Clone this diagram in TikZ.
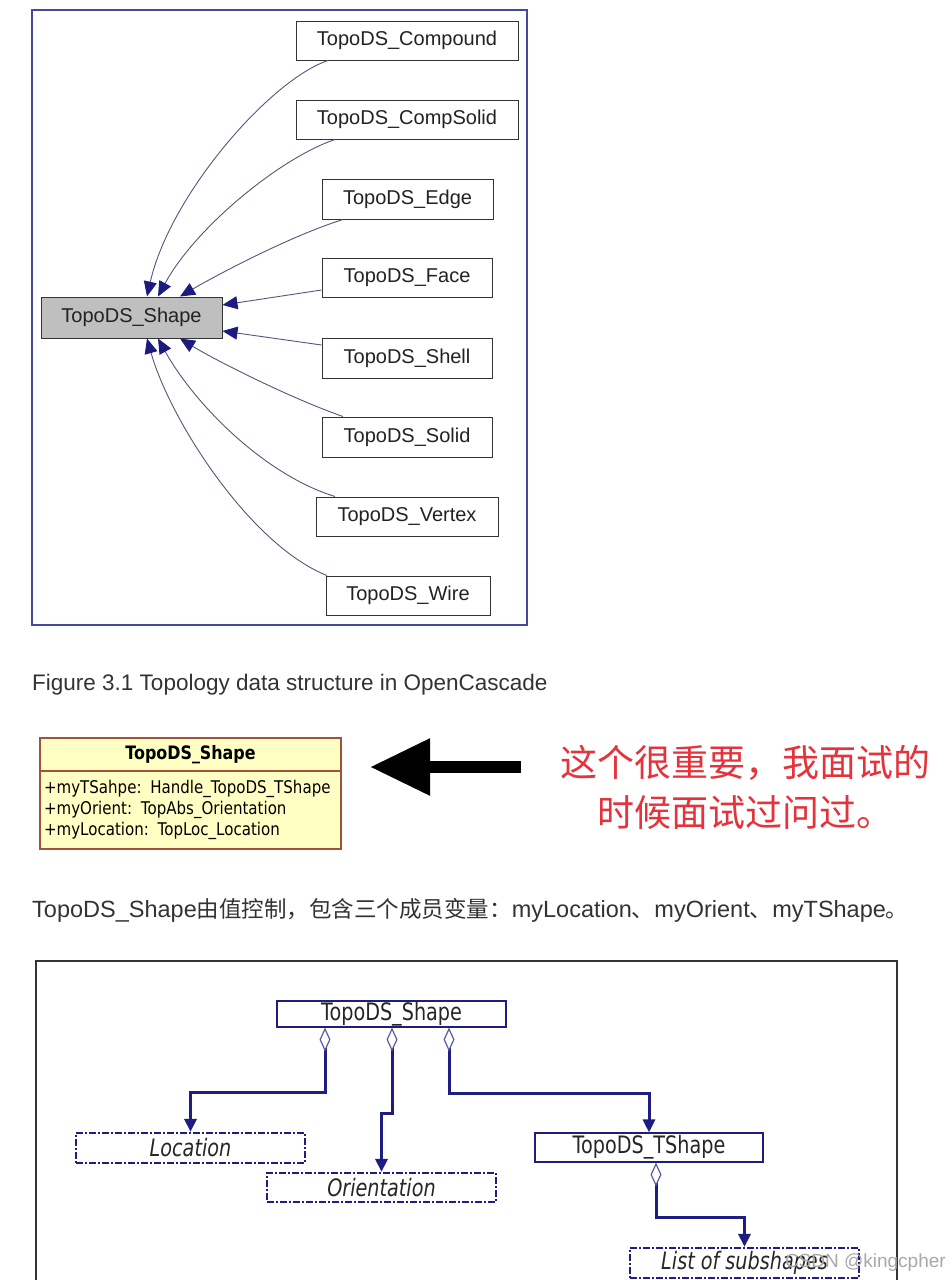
\documentclass[tikz,border=0pt]{standalone}
\usepackage{fontspec}
\setmainfont{Liberation Sans}
\newfontfamily\cjk{Noto Sans CJK SC}
\newfontfamily\condf[FakeStretch=0.8]{DejaVu Sans}
\newfontfamily\umlf[FakeStretch=0.86]{DejaVu Sans}
\usetikzlibrary{arrows.meta}
\definecolor{frameblue}{HTML}{4848A0}
\definecolor{headnavy}{HTML}{1C1C80}
\definecolor{linec}{HTML}{55557A}
\definecolor{txtgray}{HTML}{222222}
\definecolor{capgray}{HTML}{333333}
\definecolor{umlfill}{HTML}{FFFFC4}
\definecolor{umlborder}{HTML}{A0523A}
\definecolor{navy}{HTML}{1E1E82}
\definecolor{dianavy}{HTML}{5A5AA0}
\definecolor{redtxt}{HTML}{E5323B}
\definecolor{wmgray}{HTML}{A8A8A8}
\newcommand{\cn}[1]{{\cjk\fontsize{22.5}{26}\selectfont #1}}
\tikzset{
  classbox/.style={draw=black!80, line width=1pt, fill=white, inner sep=0pt, text=txtgray,
    font=\fontsize{20}{24}\selectfont},
  inh/.style={draw=linec, line width=0.9pt, -{Triangle[length=15pt,width=13pt,color=headnavy]}},
  solidbox/.style={draw=navy, line width=1.1pt, fill=white, inner sep=0pt, text=black!85,
    font=\condf\fontsize{24}{26}\selectfont},
  dashbox/.style={draw=navy, line width=2.2pt, dash pattern=on 7pt off 2pt on 2pt off 2pt, fill=white, inner sep=0pt, text=black!85,
    font=\condf\itshape\fontsize{24}{26}\selectfont},
  agg/.style={draw=navy, line width=3pt, line cap=butt,
    {Diamond[open,length=24pt,width=11pt,line width=1.2pt,color=dianavy,fill=white]}-{Triangle[length=13pt,width=12pt]}},
}
\begin{document}
\begin{tikzpicture}[x=1pt,y=-1pt]
\useasboundingbox (0,0) rectangle (951,1280);
\fill[white] (0,0) rectangle (951,1280);

% ---------- top diagram ----------
\draw[frameblue, line width=1.5pt] (32,10) rectangle (527,625);
\node[classbox, minimum width=222pt, minimum height=39pt] (cmp) at (407,40.5) {TopoDS\_Compound};
\node[classbox, minimum width=222pt, minimum height=39pt] (csd) at (407,119.5) {TopoDS\_CompSolid};
\node[classbox, minimum width=171pt, minimum height=40pt] (edg) at (407.5,199) {TopoDS\_Edge};
\node[classbox, minimum width=170pt, minimum height=39pt] (fac) at (407,277.5) {TopoDS\_Face};
\node[classbox, fill=black!25, minimum width=181pt, minimum height=41pt] (shp) at (131.5,317.5) {TopoDS\_Shape};
\node[classbox, minimum width=170pt, minimum height=40pt] (shl) at (407,358) {TopoDS\_Shell};
\node[classbox, minimum width=170pt, minimum height=40pt] (sol) at (407,437) {TopoDS\_Solid};
\node[classbox, minimum width=182pt, minimum height=39pt] (vtx) at (407,516.5) {TopoDS\_Vertex};
\node[classbox, minimum width=164pt, minimum height=39pt] (wir) at (408,595.5) {TopoDS\_Wire};

\draw[inh] ([xshift=-79pt]cmp.south) .. controls (270,80) and (170,195) .. ([xshift=15.5pt]shp.north);
\draw[inh] ([xshift=-72pt]csd.south) .. controls (280,158) and (195,228) .. ([xshift=26.5pt]shp.north);
\draw[inh] ([xshift=-64.5pt]edg.south) .. controls (290,236) and (215,276) .. ([xshift=48.5pt]shp.north);
\draw[inh] ([yshift=-12.5pt]fac.west) -- ([yshift=12.5pt]shp.east);
\draw[inh] ([yshift=13pt]shl.west) -- ([yshift=-13.5pt]shp.east);
\draw[inh] ([xshift=-64pt]sol.north) .. controls (290,398) and (215,360) .. ([xshift=48.5pt]shp.south);
\draw[inh] ([xshift=-72pt]vtx.north) .. controls (265,475) and (195,405) .. ([xshift=26.5pt]shp.south);
\draw[inh] ([xshift=-81pt]wir.north) .. controls (250,545) and (170,420) .. ([xshift=15.5pt]shp.south);

\node[anchor=west, text=capgray, font=\fontsize{22.5}{26}\selectfont, inner sep=0pt] (cap) at (32,685) {Figure 3.1 Topology data structure in OpenCascade};

% ---------- UML box + arrow + red note ----------
\node[draw=umlborder, line width=1.2pt, fill=umlfill, minimum width=301pt, minimum height=33pt, inner sep=0pt,
  font=\umlf\bfseries\fontsize{18.5}{21}\selectfont] (umlh) at (190.5,754.5) {TopoDS\_Shape};
\node[draw=umlborder, line width=1.2pt, fill=umlfill, minimum width=301pt, minimum height=78pt, inner sep=0pt,
  text width=293pt, align=left, font=\umlf\fontsize{17.5}{21}\selectfont] (umlb) at (190.5,810)
  {+myTSahpe: Handle\_TopoDS\_TShape\\+myOrient: TopAbs\_Orientation\\+myLocation: TopLoc\_Location};

\coordinate (atail) at (521,767);
\coordinate (ahead) at (370,767);
\draw[black, line width=12pt, -{Triangle[length=60pt,width=54pt]}] (atail) -- (ahead);

\node[text=redtxt, align=center, font=\cjk\fontsize{37}{50}\selectfont, inner sep=0pt] (note) at (745,787)
  {这个很重要，我面试的\\时候面试过问过。};

\node[anchor=west, text=capgray, inner sep=0pt, font=\fontsize{23.5}{26}\selectfont] (para) at (32,910)
  {TopoDS\_Shape\cn{由值控制，包含三个成员变量：}myLocation\cn{、}myOrient\cn{、}myTShape\cn{。}};

% ---------- bottom diagram ----------
\draw[black!80, line width=2pt] (36,1280) -- (36,961) -- (897,961) -- (897,1280);

\node[solidbox, minimum width=229pt, minimum height=26pt] (s2) at (391.5,1014) {TopoDS\_Shape};
\node[dashbox, minimum width=229pt, minimum height=30pt] (loc) at (190.5,1148) {Location};
\node[dashbox, minimum width=229pt, minimum height=29pt] (ori) at (381.5,1187.5) {Orientation};
\node[solidbox, minimum width=228pt, minimum height=29pt] (ts) at (649,1147.5) {TopoDS\_TShape};
\node[dashbox, minimum width=229pt, minimum height=30pt] (lst) at (744.5,1263) {List of subshapes};

\draw[agg] ([xshift=-66.5pt]s2.south) -- ++(0,65) -| (loc.north);
\draw[agg] ([xshift=0.5pt]s2.south) -- ++(0,86) -| (ori.north);
\draw[agg] ([xshift=57.5pt]s2.south) -- ++(0,66) -| (ts.north);
\draw[agg] ([xshift=7pt]ts.south) -- ++(0,55) -| (lst.north);

\node[anchor=east, text=wmgray, inner sep=0pt, font=\fontsize{19}{22}\selectfont] (wm) at (946,1263) {CSDN @kingcpher};
\end{tikzpicture}
\end{document}
